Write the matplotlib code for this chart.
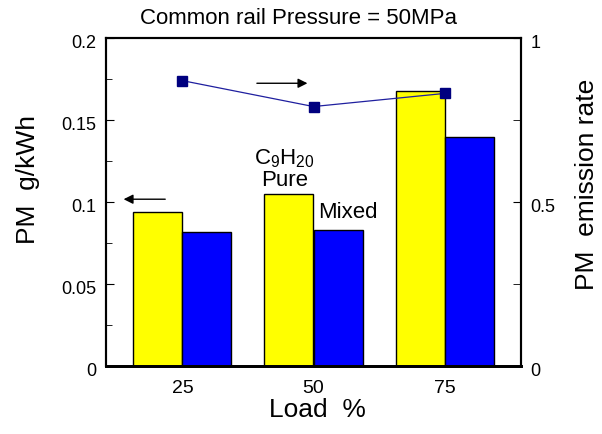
import matplotlib
matplotlib.use("Agg")
import matplotlib.pyplot as plt
from matplotlib.ticker import MultipleLocator, FixedLocator
from matplotlib.transforms import ScaledTranslation
import numpy as np

plt.rcParams['font.family'] = ['Liberation Sans', 'DejaVu Sans']
plt.rcParams['mathtext.fontset'] = 'custom'
plt.rcParams['mathtext.rm'] = 'Liberation Sans'

loads = ["25", "50", "75"]
pm_pure = [0.0937, 0.1049, 0.1677]
pm_mixed = [0.0819, 0.0829, 0.1396]
emission_rate = [0.870, 0.791, 0.831]

W, H = 602, 434
fig = plt.figure(figsize=(W / 100, H / 100), dpi=100)
ax = fig.add_axes([106 / W, 1 - 366 / H, 415 / W, 328 / H])

x = np.arange(1, len(loads) + 1)
w = 0.374
ax.bar(x - w / 2, pm_pure, width=w, color="#ffff00", edgecolor="black", linewidth=1.0, zorder=2)
ax.bar(x + w / 2, pm_mixed, width=w, color="#0000ff", edgecolor="black", linewidth=1.0, zorder=2)

ax.set_xlim(0.417, 3.583)
ax.set_ylim(0, 0.2)
ax.set_xticks(x)
ax.set_xticklabels(loads)
ax.tick_params(axis="x", length=0, labelsize=14, pad=10)
ax.yaxis.set_major_locator(FixedLocator([0, 0.05, 0.1, 0.15, 0.2]))
ax.set_yticklabels(["0", "0.05", "0.1", "0.15", "0.2"])
ax.yaxis.set_minor_locator(MultipleLocator(0.025))
ax.tick_params(axis="y", which="both", direction="in", labelsize=13, pad=7)
ax.tick_params(axis="y", which="major", length=6)
ax.tick_params(axis="y", which="minor", length=4)
for s in ax.spines.values():
    s.set_linewidth(1.5)
ax.spines["bottom"].set_linewidth(2.0)

ax2 = ax.twinx()
ax2.set_ylim(0, 1)
ax2.plot(x, emission_rate, color="#1f1f9f", linewidth=0.9, marker="s",
         markersize=7, markerfacecolor="#00007f", markeredgecolor="#00007f", zorder=3)
ax2.yaxis.set_major_locator(FixedLocator([0, 0.5, 1]))
ax2.set_yticklabels(["0", "0.5", "1"])
ax2.yaxis.set_minor_locator(MultipleLocator(0.25))
ax2.tick_params(axis="y", which="both", direction="in", labelsize=13, pad=7)
ax2.tick_params(axis="y", which="both", length=6)
for s in ax2.spines.values():
    s.set_linewidth(1.5)
ax2.spines["bottom"].set_linewidth(2.0)

# nudge y tick labels slightly below their ticks
shift = ScaledTranslation(0, -3 / 100, fig.dpi_scale_trans)
for lab in ax.get_yticklabels() + ax2.get_yticklabels():
    lab.set_transform(lab.get_transform() + shift)

def px(xp, yp):
    return xp / W, 1 - yp / H

fig.text(*px(299, 18), "Common rail Pressure = 50MPa", fontsize=16, ha="center", va="center")
fig.text(*px(317, 410), "Load  %", fontsize=19, ha="center", va="center")
fig.text(*px(28, 179), "PM  g/kWh", fontsize=19, ha="center", va="center", rotation=90)
fig.text(*px(587, 184), "PM  emission rate", fontsize=19, ha="center", va="center", rotation=90)

# direction arrows pointing at each axis
ax.annotate("", xy=(0.53, 0.1017), xytext=(0.89, 0.1017),
            arrowprops=dict(arrowstyle="-|>", color="black", lw=1.0, mutation_scale=14))
ax2.annotate("", xy=(1.975, 0.862), xytext=(1.547, 0.862),
             arrowprops=dict(arrowstyle="-|>", color="black", lw=1.0, mutation_scale=14))

ax.text(1.776, 0.1262, r"C$_\mathrm{9}$H$_\mathrm{20}$", fontsize=16, ha="center", va="center", zorder=4)
ax.text(1.78, 0.1134, "Pure", fontsize=16, ha="center", va="center", zorder=4)
ax.text(2.261, 0.0933, "Mixed", fontsize=16, ha="center", va="center", zorder=4)

fig.savefig("out.png", dpi=100)
